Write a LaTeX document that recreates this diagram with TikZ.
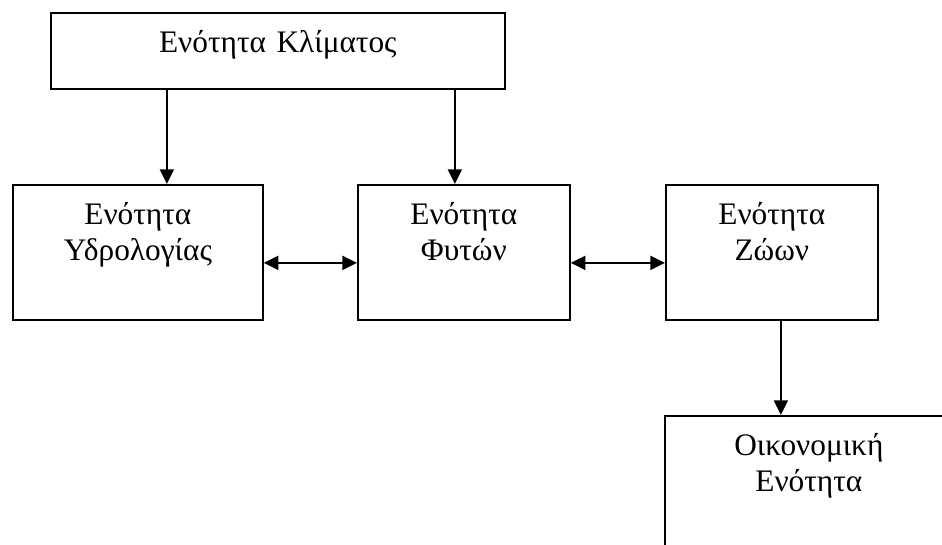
\documentclass[tikz,border=0pt]{standalone}
\usepackage{fontspec}
\setmainfont{Liberation Serif}
\usetikzlibrary{arrows.meta,calc}
\tikzset{
  modul/.style={draw, line width=1.3pt, anchor=north west, inner sep=0pt, align=center,
    text height=30pt, font=\fontsize{23.5}{27}\selectfont},
  link/.style={line width=1.3pt, -{Triangle[length=11pt,width=10.5pt]}},
  dlink/.style={line width=1.3pt, {Triangle[length=11pt,width=10.5pt]}-{Triangle[length=11pt,width=10.5pt]}}
}

\begin{document}
\begin{tikzpicture}[x=0.75pt, y=0.75pt]
  \useasboundingbox (0,0) rectangle (942,544);
  \node[modul, text width=340.5pt, text depth=27pt] (klima) at (50,532) {Ενότητα Κλίματος};
  \node[modul, text width=187.5pt, text depth=71.25pt] (ydro) at (12,360) {Ενότητα\\Υδρολογίας};
  \node[modul, text width=159pt, text depth=71.25pt] (fyta) at (357,360) {Ενότητα\\Φυτών};
  \node[modul, text width=159pt, text depth=71.25pt] (zoa) at (665,360) {Ενότητα\\Ζώων};
  \node[modul, text width=216pt, text depth=71.25pt] (oiko) at (664,129) {Οικονομική\\Ενότητα};
  \coordinate (k1) at ($(ydro.north)+(29,0)$);
  \coordinate (k2) at ($(fyta.north)+(-9,0)$);
  \coordinate (k3) at ($(zoa.south)+(9,0)$);
  \draw[link] (k1 |- klima.south) -- (k1);
  \draw[link] (k2 |- klima.south) -- (k2);
  \draw[link] (k3) -- (k3 |- oiko.north);
  \draw[dlink] ($(ydro.east)+(0,-10.5)$) -- ($(fyta.west)+(0,-10.5)$);
  \draw[dlink] ($(fyta.east)+(0,-10.5)$) -- ($(zoa.west)+(0,-10.5)$);
\end{tikzpicture}
\end{document}
